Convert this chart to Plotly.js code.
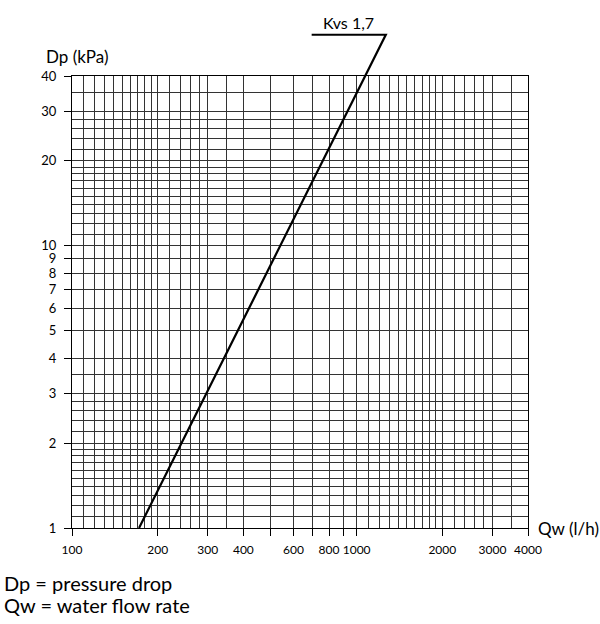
<!DOCTYPE html>
<html>
<head>
<meta charset="utf-8">
<script src="https://cdn.plot.ly/plotly-3.0.1.min.js"></script>
<style>html,body{margin:0;padding:0;background:#fff;}#chart{width:600px;height:624px;}</style>
</head>
<body>
<div id="chart"></div>
<script>
// Flow rate grid (l/h)
const qGrid = [100,110,120,130,140,150,160,170,180,190,200,220,240,260,280,300,350,400,500,600,700,800,900,1000,1100,1200,1300,1400,1500,1600,1700,1800,1900,2000,2200,2400,2600,2800,3000,3500,4000];
const qTicks = [100,200,300,400,500,600,700,800,900,1000,2000,3000,4000];
const qTickText = ['100','200','300','400','','600','','800','','1000','2000','3000','4000'];
// Pressure drop grid (kPa)
const dpGrid = [1,1.1,1.2,1.3,1.4,1.5,1.6,1.7,1.8,1.9,2,2.2,2.4,2.6,2.8,3,3.5,4,5,6,7,8,9,10,11,12,13,14,15,16,17,18,19,20,22,24,26,28,30,35,40];
const dpTicks = [1,2,3,4,5,6,7,8,9,10,20,30,40];
const dpTickText = ['1','2','3','4','5','6','7','8','9','10','20','30','40'];
// Kvs 1,7 curve with its leader to the label
const kvsQ = [172, 1070, 1266, 695];
const kvsDp = [1, 40, 56, 56];
const kvsLabel = 'Kvs 1,7';

const FONT = 'Lato, "Open Sans", sans-serif';
const W = 600, H = 624, mL = 72, mR = 72, mT = 20, mB = 96;
const plotH = H - mT - mB;
const yTopPx = 76;
const d1 = (H - mB - yTopPx) / plotH;
const yMax = Math.log10(40);

const traces = [
  {x: qTicks, y: qTicks.map(() => 1), xaxis: 'x', yaxis: 'y', type: 'scatter', mode: 'lines',
   line: {color: 'rgba(0,0,0,0)', width: 0}, hoverinfo: 'skip', showlegend: false},
  {x: kvsQ, y: kvsDp, xaxis: 'x2', yaxis: 'y2', type: 'scatter', mode: 'lines',
   line: {color: '#000', width: 2.2}, hoverinfo: 'skip', showlegend: false}
];

const gridCol = '#333';
const layout = {
  width: W, height: H,
  margin: {l: mL, r: mR, t: mT, b: mB, pad: 0},
  paper_bgcolor: '#fff', plot_bgcolor: 'rgba(0,0,0,0)',
  showlegend: false,
  font: {family: FONT, size: 13, color: '#000'},
  xaxis: {
    type: 'log', range: [2, Math.log10(4000)], domain: [0, 1], anchor: 'y',
    tickmode: 'array', tickvals: qTicks, ticktext: qTickText, tickangle: 0,
    ticks: 'outside', ticklen: 7, tickwidth: 1, tickcolor: '#000',
    showgrid: true, gridcolor: gridCol, gridwidth: 1,
    showline: true, linecolor: '#000', linewidth: 1, mirror: true,
    zeroline: false, ticklabelstandoff: 4, fixedrange: true,
    tickfont: {family: FONT, size: 12, color: '#000'},
    minor: {tickmode: 'array', tickvals: qGrid, showgrid: true, gridcolor: gridCol, gridwidth: 1, ticks: ''}
  },
  yaxis: {
    type: 'log', range: [0, yMax], domain: [0, d1], anchor: 'x',
    tickmode: 'array', tickvals: dpTicks, ticktext: dpTickText,
    ticks: 'outside', ticklen: 7, tickwidth: 1, tickcolor: '#000',
    showgrid: true, gridcolor: gridCol, gridwidth: 1,
    showline: true, linecolor: '#000', linewidth: 1, mirror: true,
    zeroline: false, ticklabelstandoff: 5, fixedrange: true,
    tickfont: {family: FONT, size: 13, color: '#000'},
    minor: {tickmode: 'array', tickvals: dpGrid, showgrid: true, gridcolor: gridCol, gridwidth: 1, ticks: ''}
  },
  xaxis2: {
    type: 'log', range: [2, Math.log10(4000)], domain: [0, 1], anchor: 'y2',
    visible: false, showgrid: false, zeroline: false
  },
  yaxis2: {
    type: 'log', range: [0, yMax / d1], domain: [0, 1], anchor: 'x2',
    visible: false, showgrid: false, zeroline: false
  },
  annotations: [
    {xref: 'x2', yref: 'y2', x: Math.log10(Math.sqrt(kvsQ[3] * kvsQ[2])), y: Math.log10(kvsDp[2]),
     text: kvsLabel, showarrow: false, xanchor: 'center', yanchor: 'bottom', yshift: 1,
     font: {family: FONT, size: 16, color: '#000'}},
    {xref: 'paper', yref: 'paper', x: (44 - mL) / (W - mL - mR), y: (H - mB - 57) / plotH,
     text: 'Dp (kPa)', showarrow: false, xanchor: 'left', yanchor: 'middle',
     font: {family: FONT, size: 17, color: '#000'}},
    {xref: 'paper', yref: 'paper', x: (536 - mL) / (W - mL - mR), y: 0,
     text: 'Qw (l/h)', showarrow: false, xanchor: 'left', yanchor: 'middle',
     font: {family: FONT, size: 17, color: '#000'}},
    {xref: 'paper', yref: 'paper', x: (2 - mL) / (W - mL - mR), y: (H - mB - 583) / plotH,
     text: 'Dp = pressure drop', showarrow: false, xanchor: 'left', yanchor: 'middle',
     font: {family: FONT, size: 20, color: '#000'}},
    {xref: 'paper', yref: 'paper', x: (2 - mL) / (W - mL - mR), y: (H - mB - 605) / plotH,
     text: 'Qw = water flow rate', showarrow: false, xanchor: 'left', yanchor: 'middle',
     font: {family: FONT, size: 20, color: '#000'}}
  ]
};

Plotly.newPlot('chart', traces, layout, {displayModeBar: false, staticPlot: true});
</script>
</body>
</html>
